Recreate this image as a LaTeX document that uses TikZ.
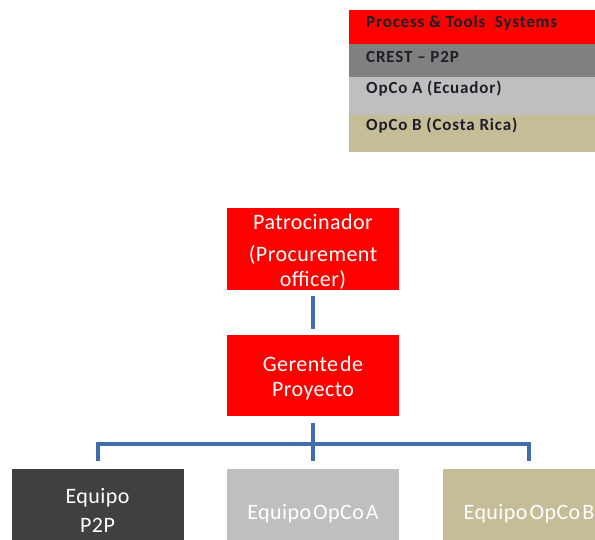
\documentclass[tikz,border=0pt]{standalone}
\usepackage{fontspec}
\setmainfont{Carlito}
\definecolor{linkblue}{RGB}{64,110,170}
\definecolor{darkbox}{RGB}{64,64,64}
\definecolor{midgray}{RGB}{128,128,128}
\definecolor{lightbox}{RGB}{191,191,191}
\definecolor{tanbox}{RGB}{196,189,151}
\definecolor{legtext}{RGB}{30,30,40}
\newcommand{\tight}{\hspace{2pt}}
\begin{document}
\begin{tikzpicture}[x=1pt,y=-1pt,
  orgbox/.style={rectangle, minimum width=172pt, inner sep=0pt},
  orgtext/.style={inner sep=0pt, text=white, align=center,
    font=\fontsize{22}{25}\selectfont\addfontfeatures{LetterSpace=2}},
  conn/.style={draw=linkblue, line width=4pt},
  legtxt/.style={anchor=west, inner sep=0pt, text=legtext,
    font=\bfseries\fontsize{17}{19}\selectfont\addfontfeatures{LetterSpace=5}}]
\useasboundingbox (0,0) rectangle (595,540);
\clip (0,0) rectangle (595,540);

% legend rows
\fill[red] (349,10) rectangle (595,44);
\fill[midgray] (349,44) rectangle (595,77);
\fill[lightbox] (349,77) rectangle (595,115);
\fill[tanbox] (349,115) rectangle (595,152);
\node[legtxt] (l1) at (366,23) {Process \& Tools\ \ Systems};
\node[legtxt] (l2) at (366,57) {CREST -- P2P};
\node[legtxt] (l3) at (366,89) {OpCo A (Ecuador)};
\node[legtxt] (l4) at (366,126) {OpCo B (Costa Rica)};

% org chart boxes
\node[orgbox, fill=red, minimum height=82pt] (pat) at (313,249) {};
\node[orgbox, fill=red, minimum height=81pt] (ger) at (313,375.5) {};
\node[orgbox, fill=darkbox, minimum height=80pt] (b1) at (97.5,509) {};
\node[orgbox, fill=lightbox, minimum height=80pt] (b2) at (313,509) {};
\node[orgbox, fill=tanbox, minimum height=80pt] (b3) at (529,509) {};

% box captions
\node[orgtext] (pattext) at (313,252) {Patrocinador\\[7pt](Procurement\\officer)};
\node[orgtext] (gertext) at (313,378.5) {Gerente\tight de\\Proyecto};
\node[orgtext] (b1text) at (97.5,510) {Equipo\\[4pt]P2P};
\node[orgtext] (b2text) at (313,514) {Equipo\tight OpCo\tight A};
\node[orgtext] (b3text) at (529,514) {Equipo\tight OpCo\tight B};

% connectors
\coordinate (bar) at (313,444);
\draw[conn, shorten <=6pt, shorten >=6pt] (pat.south) -- (ger.north);
\draw[conn, shorten <=7pt] (ger.south) -- (bar);
\draw[conn, shorten <=8pt, shorten >=8pt] (b1.north) -- (b1.north |- bar)
  -- (b3.north |- bar) -- (b3.north);
\draw[conn, shorten <=8pt] (b2.north) -- (b2.north |- bar);
\end{tikzpicture}
\end{document}
